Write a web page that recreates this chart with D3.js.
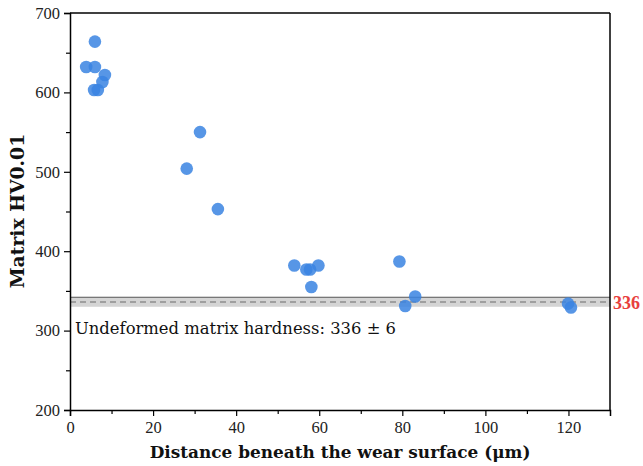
<!DOCTYPE html>
<html>
<head>
<meta charset="utf-8">
<script src="https://cdn.jsdelivr.net/npm/d3@7"></script>
<style>
  html, body { margin: 0; padding: 0; background: #fff; }
  svg { display: block; }
</style>
</head>
<body>
<svg id="chart" width="643" height="466"></svg>
<script>
// Data
const distance = [3.9, 6.0, 6.0, 8.4, 7.8, 5.8, 6.7, 31.3, 28.1, 35.6, 54.0, 56.9, 57.8, 59.8, 58.1, 79.3, 83.1, 80.7, 119.9, 120.6];
const hardness = [632, 664, 632, 622, 613, 603, 603, 550, 504, 453, 382, 377, 377, 382, 355, 387, 343, 331, 334, 329];
const xTicks = [0, 20, 40, 60, 80, 100, 120];
const yTicks = [200, 300, 400, 500, 600, 700];
const xMinorTicks = [10, 30, 50, 70, 90, 110];
const yMinorTicks = [250, 350, 450, 550, 650];
const baseHardness = 336;
const baseError = 6;
const xTitle = "Distance beneath the wear surface (\u03bcm)";
const yTitle = "Matrix HV0.01";
const bandLabel = "Undeformed matrix hardness: 336 \u00b1 6";

const svg = d3.select("#chart");
const mLeft = 70, mRight = 610, mTop = 13, mBottom = 410;
const font = "'Liberation Serif', 'Times New Roman', serif";
const font2 = "'DejaVu Serif', serif";

const x = d3.scaleLinear().domain([0, 130]).range([mLeft, mRight]);
const y = d3.scaleLinear().domain([200, 700]).range([mBottom, mTop]);

// band
svg.append("rect")
  .attr("x", mLeft).attr("width", mRight - mLeft)
  .attr("y", y(baseHardness + baseError))
  .attr("height", y(baseHardness - baseError) - y(baseHardness + baseError))
  .attr("fill", "#d4d4d4");
svg.append("line")
  .attr("x1", mLeft).attr("x2", mRight)
  .attr("y1", y(baseHardness + baseError)).attr("y2", y(baseHardness + baseError))
  .attr("stroke", "#555").attr("stroke-width", 1.2);
svg.append("line")
  .attr("x1", mLeft).attr("x2", mRight)
  .attr("y1", y(baseHardness)).attr("y2", y(baseHardness))
  .attr("stroke", "#6a6a6a").attr("stroke-width", 1.2)
  .attr("stroke-dasharray", "6,4");

// frame top/right
svg.append("line").attr("x1", mLeft).attr("x2", mRight).attr("y1", mTop).attr("y2", mTop)
  .attr("stroke", "#000").attr("stroke-width", 1.5);
svg.append("line").attr("x1", mRight).attr("x2", mRight).attr("y1", mTop).attr("y2", mBottom)
  .attr("stroke", "#000").attr("stroke-width", 1.5);

// axes
svg.append("g").attr("transform", `translate(0,${mBottom})`)
  .call(d3.axisBottom(x).tickValues(xTicks).tickSize(6).tickPadding(5).tickFormat(d3.format("d")));
svg.append("g").attr("transform", `translate(0,${mBottom})`)
  .call(d3.axisBottom(x).tickValues(xMinorTicks).tickSize(4).tickFormat(""))
  .call(g => g.select(".domain").remove());
svg.append("g").attr("transform", `translate(${mLeft},0)`)
  .call(d3.axisLeft(y).tickValues(yTicks).tickSize(6).tickPadding(4).tickFormat(d3.format("d")));
svg.append("g").attr("transform", `translate(${mLeft},0)`)
  .call(d3.axisLeft(y).tickValues(yMinorTicks).tickSize(4).tickFormat(""))
  .call(g => g.select(".domain").remove());

svg.selectAll(".domain").attr("stroke", "#000").attr("stroke-width", 1.5);
svg.selectAll(".tick line").attr("stroke", "#000").attr("stroke-width", 1.2);
svg.selectAll(".tick text").attr("font-family", font).attr("font-size", 16.5).attr("fill", "#222");

// points
svg.append("g").selectAll("circle")
  .data(distance.map((d, i) => [d, hardness[i]]))
  .join("circle")
  .attr("cx", d => x(d[0])).attr("cy", d => y(d[1]))
  .attr("r", 6.3)
  .attr("fill", "#3a84e2").attr("fill-opacity", 0.85);

// band texts
svg.append("text")
  .attr("x", 75).attr("y", 334)
  .attr("font-family", font2).attr("font-size", 16.4).attr("fill", "#111")
  .text(bandLabel);
svg.append("text")
  .attr("x", 613).attr("y", y(baseHardness) + 7)
  .attr("font-family", font).attr("font-weight", "bold").attr("font-size", 18).attr("fill", "#e8403d")
  .text(String(baseHardness));

// titles
svg.append("text")
  .attr("x", 340).attr("y", 458)
  .attr("text-anchor", "middle")
  .attr("font-family", font2).attr("font-weight", "bold").attr("font-size", 16.9).attr("fill", "#111")
  .text(xTitle);
svg.append("text")
  .attr("transform", `translate(24,211) rotate(-90)`)
  .attr("text-anchor", "middle")
  .attr("font-family", font2).attr("font-weight", "bold").attr("font-size", 18.8).attr("fill", "#111")
  .text(yTitle);
</script>
</body>
</html>
